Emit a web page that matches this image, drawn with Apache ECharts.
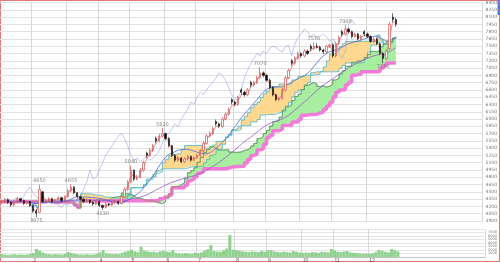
<!DOCTYPE html>
<html><head><meta charset="utf-8">
<script src="https://cdn.jsdelivr.net/npm/echarts@6/dist/echarts.min.js"></script>
<style>html,body{margin:0;padding:0;background:#fff}#c{width:500px;height:263px}</style>
</head><body><div id="c"></div>
<script>
// ---- data (one slot = about two trading days) ----
const opens=[4280,4300,4340,4280,4230,4300,4360,4320,4260,4300,
 4220,4100,4080,4500,4300,4330,4360,4300,4340,4380,
 4320,4400,4520,4600,4480,4400,4350,4300,4330,4280,
 4250,4300,4220,4180,4250,4230,4280,4300,4260,4400,
 4550,4700,4950,4760,4800,4950,5300,5250,5350,5600,
 5550,5650,5700,5600,5450,5250,5150,5200,5120,5180,
 5230,5150,5200,5250,5350,5500,5650,5700,5950,5900,
 5850,6000,6100,6400,6350,6300,6600,6550,6500,6750,
 6700,6750,6850,6950,6900,6800,6650,6500,6400,6420,
 6600,6850,7200,7150,7250,7350,7300,7400,7500,7450,
 7500,7480,7420,7380,7500,7530,7300,7550,7800,7750,
 7850,7800,7700,7750,7650,7800,7750,7700,7600,7650,
 7550,7350,7250,7450,8100,8050];
const closes=[4300,4340,4280,4230,4300,4360,4320,4260,4300,4220,
 4100,4060,4550,4300,4330,4360,4300,4340,4380,4320,
 4400,4520,4600,4480,4400,4350,4300,4330,4280,4250,
 4300,4220,4180,4250,4230,4280,4300,4260,4400,4550,
 4700,4950,4760,4800,4950,5100,5250,5350,5450,5550,
 5650,5700,5600,5450,5250,5150,5200,5120,5180,5230,
 5150,5200,5250,5350,5500,5650,5700,5800,5900,5850,
 6000,6100,6200,6350,6300,6450,6550,6500,6600,6700,
 6750,6850,6950,6900,6800,6650,6500,6400,6420,6600,
 6850,7000,7150,7250,7350,7300,7400,7350,7450,7500,
 7480,7420,7380,7500,7520,7300,7550,7680,7750,7850,
 7800,7700,7750,7650,7700,7750,7700,7600,7650,7550,
 7350,7250,7400,7950,8050,7950];
const highs=[4340,4370,4360,4300,4320,4390,4380,4340,4330,4310,
 4240,4150,4650,4520,4350,4390,4380,4360,4410,4400,
 4430,4560,4655,4620,4500,4420,4370,4360,4350,4300,
 4330,4320,4240,4280,4270,4300,4330,4320,4430,4590,
 4740,5040,4960,4850,4990,5140,5330,5400,5490,5640,
 5700,5820,5720,5630,5470,5280,5240,5220,5210,5260,
 5250,5230,5280,5380,5540,5690,5750,5840,5990,5930,
 6040,6140,6240,6430,6380,6480,6640,6580,6640,6790,
 6790,6890,7070,6980,6930,6830,6680,6520,6460,6640,
 6890,7040,7240,7290,7390,7380,7440,7430,7540,7575,
 7560,7510,7450,7530,7560,7570,7590,7720,7840,7940,
 7880,7820,7780,7770,7730,7830,7780,7730,7680,7670,
 7570,7380,7430,8000,8180,8080];
const lows=[4250,4270,4250,4190,4200,4280,4290,4230,4240,4190,
 4070,3975,4060,4270,4280,4300,4270,4280,4320,4290,
 4300,4380,4490,4450,4370,4320,4270,4280,4250,4210,
 4230,4190,4130,4160,4200,4210,4250,4230,4240,4380,
 4520,4680,4720,4740,4780,4920,5200,5220,5320,5500,
 5520,5620,5560,5420,5220,5110,5120,5090,5100,5150,
 5120,5130,5180,5220,5320,5470,5620,5670,5860,5810,
 5820,5970,6070,6300,6260,6270,6500,6460,6470,6650,
 6670,6720,6820,6860,6770,6620,6470,6370,6370,6400,
 6570,6820,7100,7120,7220,7260,7270,7320,7400,7420,
 7450,7390,7340,7350,7460,7260,7270,7520,7700,7720,
 7760,7660,7680,7620,7620,7700,7670,7570,7570,7520,
 7320,7150,7220,7420,8000,7900];
const volumes=[800,700,600,700,800,600,700,650,700,900,
 1200,2300,1800,1300,900,800,700,800,750,700,
 900,1400,1200,900,800,700,700,800,650,700,
 900,1300,2000,1100,900,800,900,800,1200,1500,
 1700,2100,1600,1400,2900,1800,1600,1400,1500,1300,
 1600,1800,1500,1400,2000,1200,1000,900,1100,1000,
 900,1200,1100,1300,1800,2200,3400,1700,1600,1500,
 1900,2400,6300,2100,2000,1800,1600,1500,1400,1600,
 1500,1400,1700,1500,1900,2000,1600,1400,1300,1500,
 1400,1300,1700,1500,1300,1200,1300,1200,1400,1300,
 1200,1500,1400,1300,2300,1900,1500,1400,1600,1700,
 1300,1200,1100,1000,900,1000,900,1000,1400,2000,
 1800,1500,1300,2300,2000,1600];
const slotCount=153;
const tickSlots=[10,21,31,41,52,62,74,84,95,105,116];
const tickLabels=['2','3','4','5','6','7','8','9','10','11','12'];
const highNoteSlots=[12,22,41,51,82,99,109];
const highNoteValues=[4650,4655,5040,5820,7070,7575,7940];
const lowNoteSlots=[11,32,121];
const lowNoteValues=[3975,4130,7150];
const leadSlots=13; // 26 trading days

// ---- derived indicator lines ----
const N=closes.length;
function midLine(p){const o=[];for(let i=0;i<N;i++){let h=-1e9,l=1e9;for(let j=Math.max(0,i-p+1);j<=i;j++){h=Math.max(h,highs[j]);l=Math.min(l,lows[j]);}o.push((h+l)/2);}return o;}
function ma(arr,p){const o=[];for(let i=0;i<N;i++){let s=0,c=0;for(let j=Math.max(0,i-p+1);j<=i;j++){s+=arr[j];c++;}o.push(+(s/c).toFixed(1));}return o;}
function lead(arr,k){return arr.map((_,i)=>arr[Math.max(0,i-k)]);}
const tenkan=midLine(5),kijun=midLine(13),m26=midLine(26);
const spanA=lead(tenkan.map((v,i)=>(v+kijun[i])/2),leadSlots);
const spanB=lead(m26,leadSlots);
const chikou=closes.slice(leadSlots);
const cats=[];for(let i=0;i<slotCount;i++)cats.push(String(i));
const tickSet=new Set(tickSlots);

function band(name,a,b,fill,edge){
  const lo=a.map((v,i)=>Math.min(v,b[i])),df=a.map((v,i)=>Math.abs(v-b[i]));
  return [
    {type:'line',data:lo,stack:name,symbol:'none',step:'end',silent:true,z:1,lineStyle:{color:edge,width:0.7}},
    {type:'line',data:df,stack:name,symbol:'none',step:'end',silent:true,z:1,lineStyle:{color:edge,width:0.7},areaStyle:{color:fill,opacity:1}}
  ];
}
function line(data,color,w,step,z){return {type:'line',data:data,symbol:'none',silent:true,z:z||4,step:step||false,lineStyle:{color:color,width:w}};}

const chart=echarts.init(document.getElementById('c'),null,{renderer:'canvas'});
const noteLabel={show:true,fontSize:5,color:'#666',fontFamily:'DejaVu Sans',distance:1};
chart.setOption({
  animation:false,
  grid:[{left:0,right:13,top:1.5,height:219.5},{left:0,right:13,top:229,height:28}],
  xAxis:[
    {type:'category',gridIndex:0,data:cats,boundaryGap:true,axisLine:{show:false},axisTick:{show:false},axisLabel:{show:false},
     splitLine:{show:true,interval:(i)=>tickSet.has(i),lineStyle:{color:'#d8d8d8',width:1}}},
    {type:'category',gridIndex:1,data:cats,boundaryGap:true,axisLine:{show:true,lineStyle:{color:'#bbb',width:0.8}},axisTick:{show:false},
     axisLabel:{show:true,interval:(i)=>tickSet.has(i),formatter:(v)=>tickLabels[tickSlots.indexOf(+v)]||'',fontSize:5,color:'#555',margin:1,align:'left'},
     splitLine:{show:true,interval:(i)=>tickSet.has(i),lineStyle:{color:'#d8d8d8',width:1}}}
  ],
  yAxis:[
    {type:'value',gridIndex:0,position:'right',min:3900,max:8400,interval:150,axisLine:{show:false},axisTick:{show:false},
     axisLabel:{fontSize:4.5,color:'#777',margin:3,fontFamily:'DejaVu Sans',formatter:(v)=>String(v)},splitLine:{lineStyle:{color:'#e2e2e2',width:1}}},
    {type:'value',gridIndex:1,position:'right',min:0,max:8000,interval:1000,axisLine:{show:false},axisTick:{show:false},
     axisLabel:{fontSize:3.5,color:'#777',margin:3,fontFamily:'DejaVu Sans',formatter:(v)=>String(v)},splitLine:{lineStyle:{color:'#e6e6e6',width:1}}}
  ],
  series:[
    ...band('cloud',spanA,spanB,'#a8eea0','#3aa0d0'),
    ...band('kb',kijun,m26,'#ffd890','#30b0c8'),
    line(spanB,'#f27ad8',3.5,'end',2),
    line(spanA,'#7a9a30',0.7,'end',3),
    line(ma(closes,38),'#9b5cc8',0.8),
    line(ma(closes,13),'#4a68d8',0.8),
    line(chikou,'#a0a0e8',0.6),
    line(ma(closes,2),'#f07a7a',0.9),
    {type:'candlestick',data:closes.map((c,i)=>[opens[i],c,lows[i],highs[i]]),barWidth:1.8,z:5,silent:true,
     itemStyle:{color:'#ffffff',color0:'#111111',borderColor:'#c83c3c',borderColor0:'#111111',borderWidth:0.6}},
    {type:'scatter',data:highNoteSlots.map((s,k)=>[s,highNoteValues[k]]),symbolSize:0,z:6,silent:true,
     label:Object.assign({position:'top',formatter:(p)=>String(p.value[1])},noteLabel)},
    {type:'scatter',data:lowNoteSlots.map((s,k)=>[s,lowNoteValues[k]]),symbolSize:0,z:6,silent:true,
     label:Object.assign({position:'bottom',formatter:(p)=>String(p.value[1])},noteLabel)},
    {type:'bar',xAxisIndex:1,yAxisIndex:1,data:volumes,barCategoryGap:'5%',silent:true,itemStyle:{color:'#8ed28e'}}
  ],
  graphic:[
    {type:'rect',shape:{x:0.5,y:0.5,width:499,height:261},style:{fill:'none',stroke:'#e07878',lineWidth:1},silent:true},
    {type:'rect',shape:{x:497.5,y:0,width:2.5,height:15},style:{fill:'#5a7bd0'},silent:true}
  ]
});
</script></body></html>
